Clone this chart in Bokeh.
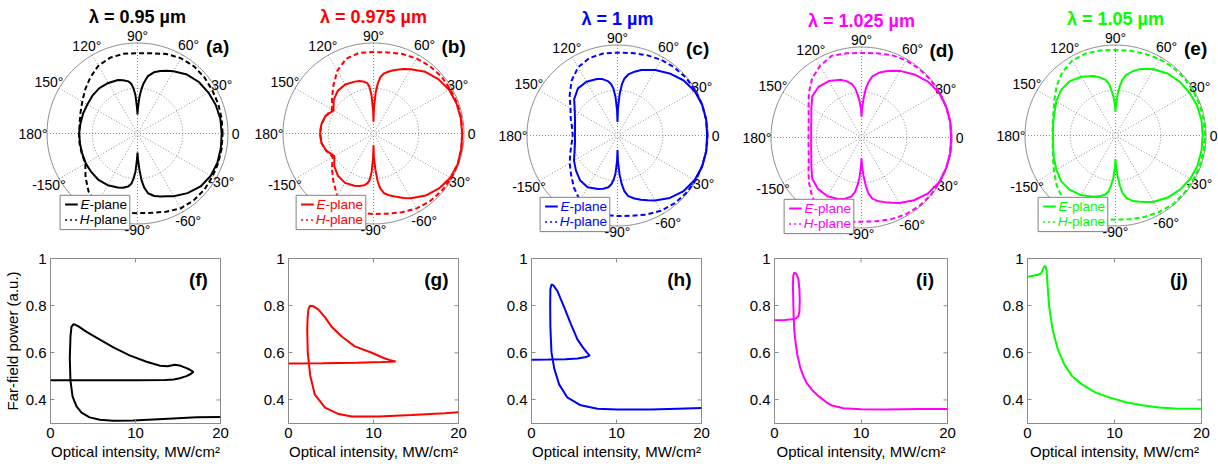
import numpy as np
from bokeh.plotting import figure
from bokeh.layouts import row, column
from bokeh.models import Range1d, FixedTicker, NumeralTickFormatter
from bokeh.embed import file_html
from bokeh.resources import INLINE
from bokeh.core.properties import value

FONT = "Liberation Sans"

# ---------------- data ----------------
TITLES = ["λ = 0.95 µm", "λ = 0.975 µm", "λ = 1 µm", "λ = 1.025 µm", "λ = 1.05 µm"]
COLORS = ["#000000", "#FF0000", "#0000FF", "#FF00FF", "#00FF00"]
TOP_LETTERS = ["(a)", "(b)", "(c)", "(d)", "(e)"]
BOTTOM_LETTERS = ["(f)", "(g)", "(h)", "(i)", "(j)"]

ANGLE_TICKS = [0, 30, 60, 90, 120, 150, 180, -150, -120, -90, -60, -30]
ANGLE_TICK_LABELS = ["0", "30°", "60°", "90°", "120°", "150°", "180°",
                     "-150°", "-120°", "-90°", "-60°", "-30°"]

# E-plane far-field patterns (normalised radius vs angle, degrees)
THETA_E = [0, 10, 20, 30, 40, 50, 60, 65, 70, 75,
           80, 83, 85, 87, 89, 90, 91, 93, 95, 97,
           100, 105, 110, 120, 130, 140, 150, 160, 170, 180,
           190, 200, 210, 220, 230, 240, 250, 255, 260, 263,
           265, 267, 269, 270, 271, 273, 275, 277, 280, 285,
           290, 295, 300, 310, 320, 330, 340, 350, 360]

E_A = [0.93, 0.93, 0.92, 0.905, 0.885, 0.85, 0.795, 0.765, 0.735, 0.70,
       0.64, 0.56, 0.49, 0.40, 0.28, 0.21, 0.28, 0.42, 0.50, 0.55,
       0.585, 0.61, 0.63, 0.645, 0.655, 0.65, 0.64, 0.64, 0.64, 0.645,
       0.645, 0.65, 0.66, 0.665, 0.67, 0.66, 0.635, 0.62, 0.595, 0.56,
       0.50, 0.42, 0.28, 0.21, 0.28, 0.40, 0.52, 0.60, 0.67, 0.715,
       0.74, 0.765, 0.80, 0.86, 0.91, 0.935, 0.94, 0.935, 0.93]
E_B = [0.98, 0.98, 0.975, 0.965, 0.935, 0.89, 0.82, 0.785, 0.75, 0.715,
       0.675, 0.63, 0.56, 0.45, 0.28, 0.13, 0.26, 0.42, 0.52, 0.56,
       0.58, 0.60, 0.61, 0.625, 0.615, 0.575, 0.51, 0.565, 0.585, 0.59,
       0.585, 0.555, 0.50, 0.565, 0.61, 0.63, 0.615, 0.60, 0.58, 0.555,
       0.52, 0.44, 0.28, 0.13, 0.26, 0.40, 0.53, 0.61, 0.67, 0.71,
       0.745, 0.785, 0.825, 0.895, 0.945, 0.98, 0.99, 0.985, 0.98]
E_C = [0.99, 0.995, 0.995, 0.985, 0.95, 0.895, 0.835, 0.80, 0.77, 0.73,
       0.685, 0.635, 0.57, 0.46, 0.30, 0.15, 0.28, 0.43, 0.52, 0.57,
       0.61, 0.645, 0.665, 0.685, 0.68, 0.625, 0.545, 0.50, 0.477, 0.47,
       0.477, 0.505, 0.555, 0.60, 0.645, 0.66, 0.63, 0.61, 0.58, 0.54,
       0.49, 0.42, 0.28, 0.16, 0.28, 0.43, 0.54, 0.62, 0.68, 0.72,
       0.755, 0.79, 0.83, 0.90, 0.955, 0.985, 0.995, 0.995, 0.99]
E_D = [0.99, 0.995, 0.995, 0.99, 0.96, 0.91, 0.85, 0.815, 0.78, 0.74,
       0.685, 0.61, 0.54, 0.43, 0.31, 0.23, 0.31, 0.40, 0.47, 0.54,
       0.60, 0.645, 0.68, 0.72, 0.735, 0.71, 0.64, 0.59, 0.565, 0.555,
       0.565, 0.59, 0.64, 0.71, 0.745, 0.75, 0.725, 0.70, 0.665, 0.61,
       0.54, 0.45, 0.32, 0.23, 0.31, 0.42, 0.53, 0.62, 0.685, 0.73,
       0.76, 0.795, 0.835, 0.905, 0.96, 0.99, 0.995, 0.995, 0.99]
E_E = [0.963, 0.965, 0.96, 0.945, 0.925, 0.895, 0.845, 0.815, 0.78, 0.735,
       0.68, 0.62, 0.55, 0.46, 0.34, 0.26, 0.34, 0.43, 0.50, 0.57,
       0.625, 0.665, 0.70, 0.75, 0.785, 0.785, 0.755, 0.72, 0.70, 0.69,
       0.70, 0.725, 0.755, 0.785, 0.785, 0.76, 0.72, 0.695, 0.665, 0.62,
       0.55, 0.47, 0.35, 0.26, 0.34, 0.45, 0.56, 0.64, 0.70, 0.75,
       0.78, 0.81, 0.845, 0.895, 0.93, 0.955, 0.965, 0.965, 0.963]

# H-plane far-field patterns
THETA_H = [0, 10, 20, 30, 40, 50, 60, 70, 80, 90,
           100, 110, 120, 130, 140, 150, 160, 170, 180, 190,
           200, 210, 220, 230, 240, 250, 260, 270, 280, 290,
           300, 310, 320, 330, 340, 350, 360]
H_A = [0.94, 0.945, 0.95, 0.955, 0.965, 0.97, 0.96, 0.935, 0.90, 0.886,
       0.895, 0.89, 0.865, 0.81, 0.755, 0.705, 0.67, 0.65, 0.645, 0.65,
       0.655, 0.665, 0.75, 0.84, 0.895, 0.91, 0.89, 0.88, 0.89, 0.92,
       0.955, 0.965, 0.965, 0.955, 0.95, 0.945, 0.94]
H_B = [0.98, 0.985, 0.985, 0.98, 0.98, 0.97, 0.955, 0.935, 0.91, 0.90,
       0.905, 0.88, 0.80, 0.69, 0.60, 0.53, 0.565, 0.585, 0.59, 0.585,
       0.555, 0.52, 0.60, 0.69, 0.80, 0.875, 0.89, 0.89, 0.90, 0.925,
       0.955, 0.975, 0.985, 0.99, 0.99, 0.985, 0.98]
H_C = [0.995, 0.995, 0.995, 0.995, 0.99, 0.98, 0.965, 0.945, 0.925, 0.915,
       0.92, 0.91, 0.87, 0.79, 0.69, 0.60, 0.55, 0.51, 0.495, 0.515,
       0.555, 0.61, 0.67, 0.75, 0.83, 0.88, 0.89, 0.89, 0.90, 0.93,
       0.96, 0.98, 0.99, 0.995, 0.995, 0.995, 0.995]
H_D = [0.995, 0.995, 0.995, 0.995, 0.995, 0.99, 0.985, 0.97, 0.945, 0.934,
       0.945, 0.96, 0.915, 0.85, 0.76, 0.675, 0.62, 0.594, 0.585, 0.594,
       0.62, 0.675, 0.76, 0.85, 0.92, 0.96, 0.945, 0.93, 0.94, 0.96,
       0.98, 0.99, 0.995, 0.995, 0.995, 0.995, 0.995]
H_E = [0.99, 0.99, 0.99, 0.99, 0.99, 0.985, 0.975, 0.96, 0.95, 0.945,
       0.955, 0.965, 0.955, 0.915, 0.85, 0.78, 0.73, 0.705, 0.695, 0.705,
       0.735, 0.785, 0.85, 0.91, 0.95, 0.96, 0.94, 0.93, 0.94, 0.955,
       0.975, 0.99, 0.99, 0.99, 0.99, 0.99, 0.99]

E_PATTERNS = [E_A, E_B, E_C, E_D, E_E]
H_PATTERNS = [H_A, H_B, H_C, H_D, H_E]

# Far-field power vs optical intensity (traced along the hysteresis loop)
F_X = [0, 5, 10, 13.5, 14.5, 15.2, 16.0, 16.5, 16.8, 16.4, 16.0, 15.2, 14.6, 14.2, 13.8, 12.9,
       11.3, 9.3, 7.4, 5.4, 4.2, 3.25, 2.75, 2.47, 2.35, 2.27, 2.35, 2.6, 3.06, 3.65, 4.6, 5.8,
       7.4, 9.7, 13.3, 17.2, 20]
F_Y = [0.484, 0.484, 0.484, 0.485, 0.487, 0.492, 0.501, 0.51, 0.519, 0.528, 0.535, 0.546, 0.549,
       0.546, 0.543, 0.545, 0.562, 0.589, 0.623, 0.664, 0.69, 0.713, 0.722, 0.711, 0.67, 0.576,
       0.481, 0.414, 0.373, 0.346, 0.326, 0.316, 0.312, 0.313, 0.319, 0.326, 0.328]
G_X = [0, 4, 8, 11, 12.6, 12.0, 11.2, 9.8, 7.8, 6.3, 5.1, 4.3, 3.5, 2.9, 2.55,
       2.35, 2.25, 2.2, 2.27, 2.55, 3.1, 4.3, 5.9, 7.45, 10.6, 14.5, 18.4, 20]
G_Y = [0.555, 0.556, 0.558, 0.561, 0.563, 0.568, 0.578, 0.6, 0.627, 0.668, 0.709, 0.75, 0.784,
       0.798, 0.80, 0.785, 0.75, 0.695, 0.6, 0.504, 0.422, 0.367, 0.34, 0.33, 0.33, 0.336,
       0.344, 0.348]
H_X = [0, 2, 4, 5.4, 6.3, 6.85, 6.5, 6.0, 5.4, 4.6, 3.85, 3.06, 2.6, 2.35,
       2.22, 2.2, 2.22, 2.35, 2.67, 3.25, 4.2, 5.8, 7.76, 10.1, 14.0, 17.2, 20]
H_Y = [0.57, 0.571, 0.573, 0.576, 0.581, 0.588, 0.602, 0.625, 0.657, 0.725, 0.793, 0.861,
       0.885, 0.89, 0.87, 0.80, 0.71, 0.602, 0.534, 0.466, 0.411, 0.377, 0.363, 0.359, 0.359,
       0.363, 0.366]
I_X = [0, 1.2, 2.0, 2.5, 2.75, 2.88, 2.92, 2.88, 2.75, 2.5,
       2.28, 2.16, 2.13, 2.17, 2.22, 2.3, 2.45, 2.65, 2.97, 3.4,
       3.75, 4.4, 5.1, 6.0, 6.64, 8.0, 10.0, 12.8, 16.7, 20]
I_Y = [0.738, 0.739, 0.742, 0.746, 0.755, 0.775, 0.82, 0.87, 0.915, 0.936,
       0.94, 0.925, 0.88, 0.82, 0.75, 0.69, 0.64, 0.59, 0.538, 0.495,
       0.47, 0.44, 0.416, 0.39, 0.376, 0.365, 0.36, 0.359, 0.361, 0.362]
J_X = [0, 0.76, 1.2, 1.53, 1.72, 1.85, 1.95, 2.1, 2.2, 2.3, 2.49, 2.87, 3.44, 4.2, 5.16,
       6.3, 7.84, 9.37, 11.3, 13.2, 15.1, 17.0, 20]
J_Y = [0.922, 0.928, 0.931, 0.936, 0.948, 0.962, 0.968, 0.965, 0.945, 0.89, 0.796, 0.701,
       0.62, 0.553, 0.499, 0.465, 0.431, 0.411, 0.39, 0.377, 0.368, 0.364, 0.363]

CURVES_X = [F_X, G_X, H_X, I_X, J_X]
CURVES_Y = [F_Y, G_Y, H_Y, I_Y, J_Y]

X_TICKS = [0, 10, 20]
Y_TICKS = [0.4, 0.6, 0.8, 1.0]
X_LABEL = "Optical intensity, MW/cm²"
Y_LABEL = "Far-field power (a.u.)"

# ---------------- layout / style ----------------
COL_W = [245, 245, 245, 245, 238]
TOP_H = 245
BOT_H = 221
R_PX = 90.5
POLAR_CENTER = [(137, 133), (128, 133), (127, 135), (126, 137), (135, 135)]
# radius (in units of the outer ring) at which each angle label is centred
ANGLE_LABEL_R = [1.085, 1.075, 1.13, 1.08, 1.12, 1.13, 1.155, 1.13, 1.12, 1.065, 1.12, 1.07]
COL_X0 = [0, 245, 490, 735, 980]
BOT_FRAME = [(49, 256, 220, 427), (288, 256, 458, 425), (531, 258, 701, 428),
             (774, 255, 947, 427), (1027, 250, 1201, 423)]
TICK_PX = 4
GRID_C = "#8c8c8c"


def polar_panel(i):
    w = COL_W[i]
    cx, cy = POLAR_CENTER[i]
    p = figure(width=w, height=TOP_H,
               x_range=Range1d(-cx / R_PX, (w - cx) / R_PX),
               y_range=Range1d(-(TOP_H - cy) / R_PX, cy / R_PX),
               x_axis_type=None, y_axis_type=None,
               output_backend="svg", toolbar_location=None, min_border=0)
    p.outline_line_color = None
    p.grid.visible = False
    col = COLORS[i]

    # grid
    sp = np.deg2rad(np.arange(0, 180, 30))
    p.segment(np.cos(sp), np.sin(sp), -np.cos(sp), -np.sin(sp),
              line_color=GRID_C, line_width=1, line_dash="1 2")
    t = np.linspace(0, 2 * np.pi, 240)
    p.line(0.5 * np.cos(t), 0.5 * np.sin(t), line_color=GRID_C, line_width=1, line_dash="1 2")
    p.line(np.cos(t), np.sin(t), line_color=GRID_C, line_width=1)

    # angle labels
    la = np.deg2rad(ANGLE_TICKS)
    lr = np.array(ANGLE_LABEL_R)
    p.text(lr * np.cos(la), lr * np.sin(la), text=ANGLE_TICK_LABELS,
           text_font=value(FONT), text_font_size="14px", text_color="#000000",
           text_align="center", text_baseline="middle")

    # curves
    th = np.deg2rad(THETA_E)
    r = np.array(E_PATTERNS[i])
    p.line(r * np.cos(th), r * np.sin(th), line_color=col, line_width=2)
    th = np.deg2rad(THETA_H)
    r = np.array(H_PATTERNS[i])
    p.line(r * np.cos(th), r * np.sin(th), line_color=col, line_width=2, line_dash="5 3")

    # legend (drawn on top)
    p.quad(left=-0.855, right=-0.085, bottom=-1.062, top=-0.683,
           fill_color="white", line_color="#808080", line_width=1)
    p.segment([-0.80], [-0.785], [-0.66], [-0.785], line_color=col, line_width=2)
    p.segment([-0.80], [-0.955], [-0.66], [-0.955], line_color=col, line_width=1.5,
              line_dash="2 3")
    p.text([-0.53, -0.53], [-0.785, -0.955], text=["E", "H"], text_font=value(FONT),
           text_font_style="italic", text_font_size="13.5px", text_color=col,
           text_align="right", text_baseline="middle")
    p.text([-0.53, -0.53], [-0.785, -0.955], text=["-plane", "-plane"], text_font=value(FONT),
           text_font_size="13.5px", text_color=col, text_align="left", text_baseline="middle")

    # title and letter
    p.text([0], [1.285], text=[TITLES[i]], text_font=value(FONT), text_font_style="bold",
           text_font_size="18px", text_color=col, text_align="center", text_baseline="middle")
    p.text([0.885], [0.96], text=[TOP_LETTERS[i]], text_font=value(FONT),
           text_font_style="bold", text_font_size="19px", text_color="#000000",
           text_align="center", text_baseline="middle")
    return p


def style_axis(ax):
    ax.axis_line_color = None
    ax.major_tick_in = TICK_PX
    ax.major_tick_out = 0
    ax.minor_tick_line_color = None
    ax.major_tick_line_color = GRID_C
    ax.major_label_text_font = FONT
    ax.major_label_text_color = "#000000"
    ax.major_label_text_font_size = "15px"
    ax.major_label_standoff = 4
    ax.axis_label_text_font = FONT
    ax.axis_label_text_font_size = "15px"
    ax.axis_label_text_font_style = "normal"
    ax.axis_label_text_color = "#000000"
    ax.axis_label_standoff = 2


def curve_panel(i):
    w = COL_W[i]
    x0 = COL_X0[i]
    fl, ft, fr, fb = BOT_FRAME[i]
    p = figure(width=w, height=BOT_H, x_range=Range1d(0, 20), y_range=Range1d(0.3, 1.0),
               output_backend="svg", toolbar_location=None,
               min_border_left=fl - x0, min_border_right=x0 + w - fr,
               min_border_top=ft - TOP_H, min_border_bottom=TOP_H + BOT_H - fb)
    p.grid.visible = False
    p.outline_line_color = GRID_C
    p.xaxis.ticker = FixedTicker(ticks=X_TICKS)
    p.yaxis.ticker = FixedTicker(ticks=Y_TICKS)
    p.yaxis.formatter = NumeralTickFormatter(format="0.[0]")
    style_axis(p.xaxis[0])
    style_axis(p.yaxis[0])
    p.xaxis.axis_label = X_LABEL
    if i == 0:
        p.yaxis.axis_label = Y_LABEL

    # mirrored inward ticks on the top and right edges of the box
    dy = TICK_PX / (fb - ft) * (1.0 - 0.3)
    dx = TICK_PX / (fr - fl) * 20
    p.segment(X_TICKS, [1.0] * 3, X_TICKS, [1.0 - dy] * 3, line_color=GRID_C, line_width=1)
    p.segment([20] * 4, Y_TICKS, [20 - dx] * 4, Y_TICKS, line_color=GRID_C, line_width=1)

    p.line(CURVES_X[i], CURVES_Y[i], line_color=COLORS[i], line_width=2)
    p.text([17.4], [0.913], text=[BOTTOM_LETTERS[i]], text_font=value(FONT),
           text_font_style="bold", text_font_size="19px", text_color="#000000",
           text_align="center", text_baseline="middle")
    return p


tops = [polar_panel(i) for i in range(5)]
bots = [curve_panel(i) for i in range(5)]
layout = column(row(*tops), row(*bots))

open("out.html", "w").write(file_html(layout, INLINE))
